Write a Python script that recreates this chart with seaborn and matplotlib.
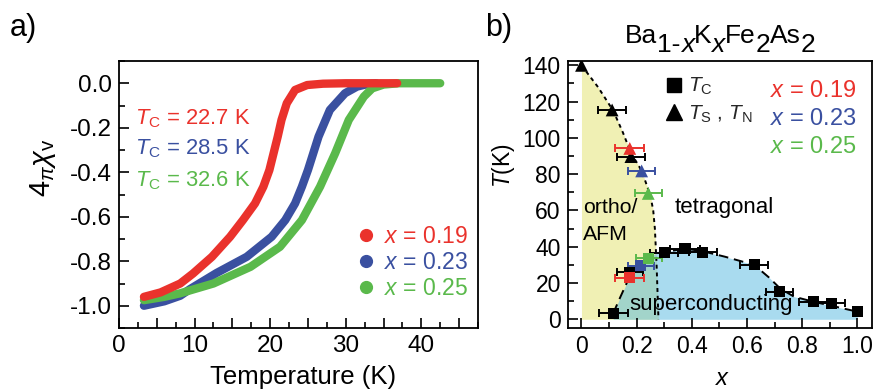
import numpy as np
import pandas as pd
import matplotlib
matplotlib.use('Agg')
import matplotlib.pyplot as plt
import seaborn as sns
from matplotlib.lines import Line2D
from matplotlib.ticker import MultipleLocator, FuncFormatter

# ---------------- data: panel a ----------------
doping_labels = ['0.19', '0.23', '0.25']
tc_labels = ['22.7', '28.5', '32.6']
colors = ['#EA322C', '#3A50A0', '#5AB94B']

red_T = [3.3, 5.5, 8.1, 9.8, 12.3, 14.7, 16.4, 18.0, 19.1, 19.9, 21.0, 21.5, 22.2, 23.3, 24.9, 27.0, 30.0, 36.8]
red_chi = [-0.96, -0.94, -0.90, -0.855, -0.78, -0.69, -0.615, -0.54, -0.465, -0.39, -0.24, -0.165, -0.09, -0.03, -0.008, -0.002, 0.0, 0.0]

blue_T = [3.3, 6.0, 8.1, 9.4, 12.9, 16.9, 20.2, 22.0, 23.3, 24.2, 25.0, 26.4, 27.9, 29.9, 31.5, 33.0, 34.0]
blue_chi = [-1.0, -0.98, -0.955, -0.925, -0.853, -0.78, -0.69, -0.615, -0.54, -0.465, -0.39, -0.24, -0.12, -0.045, -0.015, -0.003, 0.0]

green_T = [3.3, 6.0, 8.1, 12.5, 17.4, 21.3, 24.2, 26.6, 28.6, 30.4, 32.4, 33.5, 35.0, 37.0, 42.5]
green_chi = [-0.975, -0.96, -0.944, -0.90, -0.825, -0.735, -0.615, -0.465, -0.315, -0.165, -0.06, -0.023, -0.006, 0.0, 0.0]

# ---------------- data: panel b ----------------
tc_x = [0.115, 0.175, 0.30, 0.375, 0.44, 0.626, 0.717, 0.84, 0.905, 1.0]
tc_T = [3.3, 26.0, 36.7, 39.0, 37.0, 30.0, 15.2, 9.7, 8.8, 4.2]
tc_xerr = [0.053, 0.048, 0.05, 0.055, 0.05, 0.05, 0.05, 0.05, 0.05, 0.0]

ts_x = [0.0, 0.111, 0.179]
ts_T = [140.0, 115.4, 89.7]
ts_xerr = [0.0, 0.05, 0.05]

samp_ts_x = [0.175, 0.218, 0.242]
samp_ts_T = [94.2, 81.8, 69.4]
samp_tc_x = [0.173, 0.215, 0.244]
samp_tc_T = [23.0, 29.6, 33.6]
samp_xerr = [0.052, 0.048, 0.048]

afm_x = [0.0, 0.06, 0.115, 0.15, 0.18, 0.21, 0.23, 0.25, 0.26, 0.266, 0.272, 0.279]
afm_T = [140.0, 128.0, 115.0, 103.0, 91.5, 84.0, 76.8, 68.0, 60.0, 50.0, 30.9, 0.0]

sc_x = [0.115, 0.14, 0.17, 0.21, 0.27, 0.30, 0.375, 0.44, 0.52, 0.626, 0.68, 0.72, 0.77, 0.84, 0.905, 1.0]
sc_T = [3.3, 12.0, 22.0, 31.0, 36.4, 37.0, 39.0, 37.5, 34.5, 30.0, 23.0, 17.0, 12.5, 9.7, 7.5, 4.2]

# ---------------- style ----------------
sns.set_theme(style='white')
plt.rcParams['font.family'] = ['Liberation Sans', 'DejaVu Sans']
plt.rcParams['mathtext.fontset'] = 'custom'
plt.rcParams['mathtext.rm'] = 'Liberation Sans'
plt.rcParams['mathtext.it'] = 'Liberation Sans:italic'
plt.rcParams['mathtext.bf'] = 'Liberation Sans:bold'
plt.rcParams['axes.unicode_minus'] = False

fig = plt.figure(figsize=(8.77, 3.90), dpi=100)
axa = fig.add_axes([119/877, 1-328/390, (478-119)/877, (328-61)/390])
axb = fig.add_axes([567.7/877, 1-328/390, (872-567.7)/877, (328-61)/390])

for ax, ls in ((axa, 17.5), (axb, 16.5)):
    for s in ax.spines.values():
        s.set_color('black')
        s.set_linewidth(1.3)
    ax.tick_params(which='both', direction='in', top=False, right=False,
                   bottom=True, left=True, color='black', width=1.2, pad=5,
                   labelsize=ls, labelcolor='black')
    ax.tick_params(which='major', length=7)
    ax.tick_params(which='minor', length=4)

# ---------------- panel a ----------------
df = pd.concat([
    pd.DataFrame({'T': blue_T, 'chi': blue_chi, 'x': doping_labels[1]}),
    pd.DataFrame({'T': green_T, 'chi': green_chi, 'x': doping_labels[2]}),
    pd.DataFrame({'T': red_T, 'chi': red_chi, 'x': doping_labels[0]}),
])
for lab, col in zip([doping_labels[1], doping_labels[2], doping_labels[0]],
                    [colors[1], colors[2], colors[0]]):
    sub = df[df['x'] == lab]
    sns.lineplot(data=sub, x='T', y='chi', color=col, lw=6, sort=False,
                 estimator=None, ax=axa, legend=False, solid_capstyle='round',
                 solid_joinstyle='round')

axa.set_xlim(0, 47.5)
axa.set_ylim(-1.1, 0.1)
axa.xaxis.set_major_locator(MultipleLocator(5))
axa.xaxis.set_minor_locator(MultipleLocator(2.5))
axa.xaxis.set_major_formatter(FuncFormatter(
    lambda v, p: f'{v:.0f}' if abs(v % 10) < 1e-6 or abs(v % 10 - 10) < 1e-6 else ''))
axa.yaxis.set_major_locator(MultipleLocator(0.2))
axa.yaxis.set_minor_locator(MultipleLocator(0.1))
axa.yaxis.set_major_formatter(FuncFormatter(
    lambda v, p: '0.0' if abs(v) < 1e-9 else f'{v:.1f}'))
axa.set_xlabel('Temperature (K)', fontsize=18.5, color='black')
axa.xaxis.set_label_coords(0.513, -0.14)
axa.set_ylabel(r'$4_{\pi}\chi_{\mathrm{v}}$', fontsize=21, color='black')
axa.yaxis.set_label_coords(-0.17, 0.60)

tc_T_pos = 2.1
tc_y = [-0.187, -0.322, -0.465]
for lab, col, yy in zip(tc_labels, colors, tc_y):
    axa.text(tc_T_pos, yy, r'$T_{\mathrm{C}}$' + f' = {lab} K', color=col,
             fontsize=15.8, va='baseline', ha='left')

handles = [Line2D([], [], marker='o', ls='none', color=c, markersize=8.5) for c in colors]
leg = axa.legend(handles, [r'$x$ = ' + d for d in doping_labels], loc='lower right',
                 bbox_to_anchor=(1.01, 0.055), frameon=False, fontsize=16.5,
                 handletextpad=0.2, labelspacing=0.12, borderaxespad=0.2,
                 handlelength=1.2, labelcolor=colors)

# ---------------- panel b ----------------
yellow = '#F0F0B4'
blue_fill = '#55B9E1'
axb.fill_betweenx(afm_T, 0, afm_x, color=yellow, lw=0, zorder=0)
axb.fill_between(sc_x, 0, sc_T, color=blue_fill, alpha=0.5, lw=0, zorder=0.5)

sns.lineplot(x=afm_x, y=afm_T, sort=False, estimator=None, color='black', lw=1.4,
             linestyle=(0, (2, 2)), ax=axb, zorder=2)
sns.lineplot(x=sc_x, y=sc_T, sort=False, estimator=None, color='black', lw=1.4,
             linestyle=(0, (5, 3)), ax=axb, zorder=2)

eb_kw = dict(fmt='none', elinewidth=1.4, capsize=3, capthick=1.4, zorder=3)
axb.errorbar(tc_x, tc_T, xerr=tc_xerr, ecolor='black', **eb_kw)
axb.errorbar(ts_x, ts_T, xerr=ts_xerr, ecolor='black', **eb_kw)
sns.scatterplot(x=tc_x, y=tc_T, marker='s', s=65, color='black', edgecolor='none', ax=axb, zorder=4)
sns.scatterplot(x=ts_x, y=ts_T, marker='^', s=85, color='black', edgecolor='none', ax=axb, zorder=4)
for i, col in enumerate(colors):
    axb.errorbar([samp_ts_x[i]], [samp_ts_T[i]], xerr=[samp_xerr[i]], ecolor=col, **eb_kw)
    axb.errorbar([samp_tc_x[i]], [samp_tc_T[i]], xerr=[samp_xerr[i]], ecolor=col, **eb_kw)
    sns.scatterplot(x=[samp_ts_x[i]], y=[samp_ts_T[i]], marker='^', s=85, color=col,
                    edgecolor='none', ax=axb, zorder=5)
    sns.scatterplot(x=[samp_tc_x[i]], y=[samp_tc_T[i]], marker='s', s=65, color=col,
                    edgecolor='none', ax=axb, zorder=5)

axb.set_xlim(-0.05, 1.053)
axb.set_ylim(-4.8, 142.4)
axb.xaxis.set_major_locator(MultipleLocator(0.2))
axb.xaxis.set_minor_locator(MultipleLocator(0.1))
axb.xaxis.set_major_formatter(FuncFormatter(
    lambda v, p: '0' if abs(v) < 1e-9 else f'{v:.1f}'))
axb.yaxis.set_major_locator(MultipleLocator(20))
axb.yaxis.set_minor_locator(MultipleLocator(10))
axb.yaxis.set_major_formatter(FuncFormatter(lambda v, p: f'{v:.0f}'))
axb.set_xlabel(r'$x$', fontsize=17, color='black')
axb.xaxis.set_label_coords(0.51, -0.15)
axb.set_ylabel(r'$T$(K)', fontsize=16.5, color='black')
axb.yaxis.set_label_coords(-0.165, 0.61)

axb.text(0.005, 58.4, 'ortho/', fontsize=15.3, va='baseline', ha='left',
         color='black', zorder=6)
axb.text(0.005, 43.7, 'AFM', fontsize=15.3, va='baseline', ha='left',
         color='black', zorder=6)
axb.text(0.336, 58.5, 'tetragonal', fontsize=16, va='baseline', ha='left',
         color='black', zorder=6)
axb.text(0.173, 5.0, 'superconducting', fontsize=16, va='baseline', ha='left',
         color='black', zorder=6)

samp_text_T = [122.7, 107.1, 91.5]
for d, col, yy in zip(doping_labels, colors, samp_text_T):
    axb.text(0.998, yy, r'$x$ = ' + d, color=col, fontsize=17, ha='right',
             va='baseline', zorder=6)

mh = [Line2D([], [], marker='s', ls='none', color='black', markersize=10),
      Line2D([], [], marker='^', ls='none', color='black', markersize=12)]
axb.legend(mh, [r'$T_{\mathrm{C}}$', r'$T_{\mathrm{S}}$ , $T_{\mathrm{N}}$'],
           loc='upper left', bbox_to_anchor=(0.285, 0.975), frameon=False,
           fontsize=15, handletextpad=0.1, labelspacing=0.3, handlelength=1.1,
           borderaxespad=0.0)

# ---------------- title (chained pieces) ----------------
pieces = [('Ba', 0, 'normal'), ('1-', -1, 'normal'), ('x', -1, 'italic'),
          ('K', 0, 'normal'), ('x', -1, 'italic'), ('Fe', 0, 'normal'),
          ('2', -1, 'normal'), ('As', 0, 'normal'), ('2', -1, 'normal')]
fs_title = 19
prev = fig.text(625/877, 1-43/390, pieces[0][0], fontsize=fs_title, va='baseline',
                ha='left', color='black')
prev_level = 0
for txt, lvl, sty in pieces[1:]:
    dy = (lvl - prev_level) * 6.5
    prev = axb.annotate(txt, xy=(1, 0), xycoords=prev, xytext=(0, dy),
                        textcoords='offset points', va='bottom', ha='left',
                        fontsize=fs_title, style=sty, color='black',
                        annotation_clip=False)
    prev_level = lvl

fig.text(10/877, 1-36/390, 'a)', fontsize=22, color='black')
fig.text(485/877, 1-36/390, 'b)', fontsize=22, color='black')

fig.savefig('out.png', dpi=100)
